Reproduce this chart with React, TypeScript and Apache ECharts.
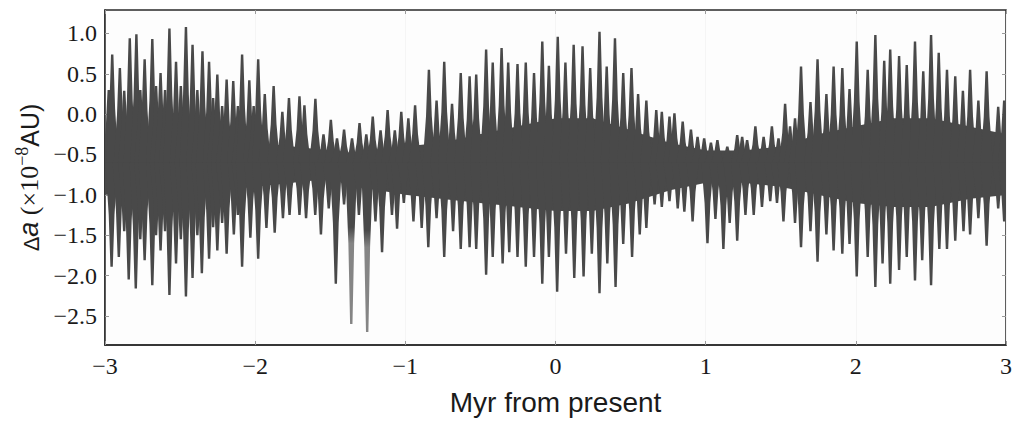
import React, { useEffect, useRef } from "react";
import * as echarts from "echarts";

// x ticks (Myr) and y ticks (1e-8 AU)
const xTicks = [-3, -2, -1, 0, 1, 2, 3];
const yTicks = [-2.5, -2.0, -1.5, -1.0, -0.5, 0.0, 0.5, 1.0];

// dense core of the oscillation: sample positions, upper and lower edge
const coreX = [-3, -2.75, -2.5, -2.25, -2, -1.75, -1.5, -1.25, -1, -0.75, -0.5, -0.25, 0, 0.25, 0.5, 0.75, 1, 1.25, 1.5, 1.75, 2, 2.25, 2.5, 2.75, 3];
const coreTop = [-0.25, -0.3, -0.3, -0.3, -0.35, -0.4, -0.45, -0.5, -0.4, -0.35, -0.25, -0.15, -0.05, -0.05, -0.2, -0.35, -0.45, -0.45, -0.4, -0.25, -0.15, -0.05, -0.05, -0.15, -0.25];
const coreBot = [-1.0, -1.0, -0.98, -0.95, -0.9, -0.85, -0.8, -0.92, -1.0, -1.05, -1.1, -1.15, -1.2, -1.2, -1.1, -0.95, -0.85, -0.85, -0.9, -1.0, -1.1, -1.15, -1.15, -1.05, -1.0];

// upward spike tips [Myr, value]
const upSpikes = [
  [-2.975, 0.30], [-2.952, 0.74], [-2.901, 0.57], [-2.872, 0.29], [-2.835, 0.94], [-2.791, 0.99], [-2.765, 0.30], [-2.736, 0.68],
  [-2.685, 0.93], [-2.660, 0.35], [-2.630, 0.51], [-2.600, 0.30], [-2.571, 1.06], [-2.527, 0.65], [-2.495, 0.35], [-2.461, 1.08],
  [-2.417, 0.86], [-2.385, 0.30], [-2.351, 0.78], [-2.307, 0.65], [-2.280, 0.20], [-2.252, 0.49], [-2.220, 0.10], [-2.190, 0.43],
  [-2.146, 0.41], [-2.115, 0.10], [-2.087, 0.74], [-2.039, 0.42], [-2.010, 0.10],
  [-1.980, 0.68], [-1.936, 0.25], [-1.877, 0.35], [-1.819, 0.03], [-1.775, 0.20], [-1.705, 0.22], [-1.672, 0.11], [-1.599, 0.19],
  [-1.545, -0.25], [-1.496, -0.07], [-1.455, -0.30], [-1.408, -0.19], [-1.355, -0.30], [-1.305, -0.11], [-1.260, -0.25],
  [-1.217, -0.03], [-1.165, -0.20], [-1.118, 0.05], [-1.070, -0.20], [-1.027, 0.03], [-0.980, -0.05],
  [-0.935, 0.11], [-0.843, 0.55], [-0.792, 0.17], [-0.741, 0.65], [-0.689, 0.13], [-0.631, 0.51], [-0.572, 0.47], [-0.528, 0.49],
  [-0.462, 0.80], [-0.418, 0.64], [-0.359, 0.82], [-0.315, 0.64], [-0.253, 0.62], [-0.198, 0.64], [-0.143, 0.51], [-0.088, 0.90],
  [-0.044, 0.60], [0.015, 0.96],
  [0.066, 0.64], [0.121, 0.86], [0.180, 0.84], [0.231, 0.57], [0.293, 1.02], [0.341, 0.59], [0.396, 0.94], [0.451, 0.51],
  [0.506, 0.57], [0.550, 0.25], [0.605, 0.17], [0.671, 0.05], [0.708, 0.03], [0.759, -0.03], [0.792, 0.01], [0.847, -0.09],
  [0.902, -0.19], [0.946, -0.28], [0.990, -0.30],
  [1.035, -0.35], [1.078, -0.32], [1.144, -0.40], [1.210, -0.26], [1.243, -0.28], [1.276, -0.32], [1.331, -0.15], [1.386, -0.28],
  [1.441, -0.15], [1.485, -0.30], [1.529, 0.13], [1.562, -0.15], [1.595, -0.05], [1.635, 0.59], [1.698, 0.15], [1.745, 0.68],
  [1.804, 0.25], [1.852, 0.59], [1.910, 0.57], [1.958, 0.31], [2.006, 0.90],
  [2.079, 0.55], [2.130, 0.98], [2.189, 0.66], [2.229, 0.80], [2.288, 0.72], [2.339, 0.61], [2.394, 0.90], [2.449, 0.53],
  [2.501, 0.98], [2.552, 0.76], [2.607, 0.55], [2.662, 0.47], [2.713, 0.29], [2.761, 0.55], [2.816, 0.17], [2.871, 0.53],
  [2.948, 0.09], [2.988, 0.17],
];

// downward spike tips [Myr, value]
const downSpikes = [
  [-2.956, -1.89], [-2.908, -1.77], [-2.872, -1.45], [-2.842, -2.05], [-2.795, -2.16], [-2.765, -1.55], [-2.736, -1.81],
  [-2.685, -2.12], [-2.660, -1.50], [-2.630, -1.69], [-2.600, -1.45], [-2.571, -2.24], [-2.527, -1.85], [-2.495, -1.55],
  [-2.461, -2.26], [-2.417, -2.03], [-2.385, -1.50], [-2.355, -1.97], [-2.307, -1.79], [-2.280, -1.40], [-2.252, -1.69],
  [-2.220, -1.35], [-2.190, -1.73], [-2.142, -1.49], [-2.115, -1.25], [-2.087, -1.89], [-2.032, -1.53],
  [-1.980, -1.79], [-1.925, -1.41], [-1.870, -1.47], [-1.815, -1.29], [-1.771, -1.25], [-1.705, -1.25], [-1.661, -1.29],
  [-1.600, -1.25], [-1.562, -1.49], [-1.510, -1.17], [-1.463, -2.10], [-1.408, -1.12], [-1.360, -2.60], [-1.309, -1.25],
  [-1.254, -2.70], [-1.199, -1.33], [-1.155, -1.71], [-1.089, -1.25], [-1.055, -1.42], [-1.010, -1.10],
  [-0.946, -1.33], [-0.891, -1.41], [-0.847, -1.65], [-0.792, -1.29], [-0.741, -1.77], [-0.682, -1.45], [-0.631, -1.67],
  [-0.572, -1.65], [-0.528, -1.67], [-0.462, -1.99], [-0.418, -1.77], [-0.352, -1.85], [-0.308, -1.71], [-0.253, -1.77],
  [-0.198, -1.89], [-0.143, -1.77], [-0.088, -2.10], [-0.044, -1.77], [0.011, -2.20],
  [0.070, -1.73], [0.125, -2.03], [0.187, -2.01], [0.242, -1.73], [0.293, -2.22], [0.345, -1.85], [0.400, -2.14], [0.451, -1.61],
  [0.510, -1.77], [0.561, -1.49], [0.605, -1.41], [0.660, -1.12], [0.708, -1.15], [0.759, -1.08], [0.814, -1.17], [0.858, -1.21],
  [0.913, -1.33], [1.012, -1.60],
  [1.065, -1.30], [1.118, -1.67], [1.160, -1.35], [1.210, -1.57], [1.265, -1.25], [1.320, -1.25], [1.375, -1.15], [1.430, -1.08],
  [1.475, -1.10], [1.518, -1.33], [1.595, -1.35], [1.635, -1.65], [1.698, -1.45], [1.745, -1.83], [1.804, -1.49], [1.852, -1.69],
  [1.910, -1.73], [1.958, -1.61], [2.006, -2.01],
  [2.079, -1.77], [2.130, -2.14], [2.178, -1.85], [2.229, -2.10], [2.288, -1.93], [2.339, -1.77], [2.394, -2.06], [2.442, -1.81],
  [2.501, -2.12], [2.556, -1.67], [2.607, -1.67], [2.662, -1.57], [2.717, -1.45], [2.761, -1.49], [2.816, -1.29], [2.871, -1.63],
  [2.948, -1.17], [2.988, -1.33],
];

const INK = "#494949";
const PALE = "#858585";
const CENTER = -0.6;
const SERIF = "'Liberation Serif', 'DejaVu Serif', 'Times New Roman', serif";
const SANS = "'Liberation Sans', Arial, Helvetica, sans-serif";

const fmt = (v: number) => {
  const s = Math.abs(v) < 1e-9 ? "0" : String(Math.abs(v));
  return v < -1e-9 ? "\u2212" + s : s;
};
const fmtY = (v: number) => {
  const s = Math.abs(v).toFixed(1);
  return v < -1e-9 ? "\u2212" + s : s;
};

export default function App() {
  const ref = useRef<HTMLDivElement>(null);
  useEffect(() => {
    if (!ref.current) return;
    const chart = echarts.init(ref.current, null, { renderer: "svg" });

    const paleFill = new echarts.graphic.LinearGradient(0, 0, 0, 1, [
      { offset: 0, color: INK },
      { offset: 0.4, color: INK },
      { offset: 0.5, color: PALE },
      { offset: 1, color: PALE },
    ]);

    const spikeRender = (params: any, api: any) => {
      const x = api.value(0);
      const v = api.value(1);
      const tip = api.coord([x, v]);
      const base = api.coord([x, CENTER]);
      const mid = [tip[0], tip[1] + (base[1] - tip[1]) * 0.5];
      const th = 1.2;
      const mh = 2.9;
      const bh = 6.2;
      return {
        type: "polygon",
        shape: {
          points: [
            [tip[0] - th, tip[1]],
            [tip[0] + th, tip[1]],
            [mid[0] + mh, mid[1]],
            [base[0] + bh, base[1]],
            [base[0] - bh, base[1]],
            [mid[0] - mh, mid[1]],
          ],
        },
        style: { fill: v < -2.3 ? paleFill : INK },
      };
    };

    const coreData = coreX.map((x, i) => [x, coreTop[i], coreBot[i]]);
    const coreRender = (params: any, api: any) => {
      const i = params.dataIndex;
      if (i >= coreData.length - 1) return null;
      const a = coreData[i];
      const b = coreData[i + 1];
      const p1 = api.coord([a[0], a[1]]);
      const p2 = api.coord([b[0], b[1]]);
      const p3 = api.coord([b[0], b[2]]);
      const p4 = api.coord([a[0], a[2]]);
      return {
        type: "polygon",
        shape: { points: [[p1[0] - 0.5, p1[1]], [p2[0] + 0.5, p2[1]], [p3[0] + 0.5, p3[1]], [p4[0] - 0.5, p4[1]]] },
        style: { fill: INK },
      };
    };

    const labelFont = { fontFamily: SERIF, fontSize: 24, color: "#1a1a1a" };
    const tickStyle = { show: true, inside: true, length: 4, lineStyle: { color: "#9a9a9a", width: 1 } };

    chart.setOption({
      animation: false,
      backgroundColor: "#ffffff",
      grid: {
        left: 105,
        right: 1,
        top: 10,
        bottom: 69,
        show: true,
        borderColor: "#2a2a2a",
        borderWidth: 1.5,
        backgroundColor: "#fdfdfd",
      },
      xAxis: [
        {
          type: "value",
          min: -3,
          max: 3,
          interval: 1,
          axisLine: { show: true, onZero: false, lineStyle: { color: "#2a2a2a", width: 1.5 } },
          axisTick: tickStyle,
          axisLabel: { ...labelFont, margin: 9, formatter: (v: number) => fmt(v), customValues: xTicks },
          splitLine: { show: true, lineStyle: { color: "#f5f5f5", width: 1 } },
          name: "Myr from present",
          nameLocation: "middle",
          nameGap: 43,
          nameTextStyle: { fontFamily: SANS, fontSize: 28, color: "#1a1a1a" },
        },
        {
          type: "value",
          position: "top",
          min: -3,
          max: 3,
          interval: 1,
          axisLine: { show: false, onZero: false },
          axisTick: tickStyle,
          axisLabel: { show: false },
          splitLine: { show: false },
        },
      ],
      yAxis: [
        {
          type: "value",
          min: -2.86,
          max: 1.29,
          axisLine: { show: true, onZero: false, lineStyle: { color: "#2a2a2a", width: 1.5 } },
          axisTick: { ...tickStyle, customValues: yTicks },
          axisLabel: { ...labelFont, margin: 8, formatter: (v: number) => fmtY(v), customValues: yTicks },
          splitLine: { show: false },
          name: "{d|\u0394}{i|a}{s| (\u00d710}{sup|\u22128}{u|AU)}",
          nameLocation: "middle",
          nameRotate: 90,
          nameGap: 54,
          nameTextStyle: {
            rich: {
              d: { fontFamily: SANS, fontSize: 22, color: "#1a1a1a", lineHeight: 30, verticalAlign: "bottom" },
              i: { fontFamily: SANS, fontStyle: "italic", fontSize: 27, color: "#1a1a1a", lineHeight: 30, verticalAlign: "bottom" },
              s: { fontFamily: SERIF, fontSize: 26, color: "#1a1a1a", lineHeight: 30, verticalAlign: "bottom" },
              sup: { fontFamily: SERIF, fontSize: 18, color: "#1a1a1a", lineHeight: 30, verticalAlign: "top" },
              u: { fontFamily: SANS, fontSize: 25, color: "#1a1a1a", lineHeight: 30, verticalAlign: "bottom" },
            },
          },
        },
        {
          type: "value",
          position: "right",
          min: -2.86,
          max: 1.29,
          axisLine: { show: false, onZero: false },
          axisTick: { ...tickStyle, customValues: yTicks },
          axisLabel: { show: false },
          splitLine: { show: false },
        },
      ],
      series: [
        {
          type: "custom",
          coordinateSystem: "cartesian2d",
          clip: true,
          renderItem: coreRender,
          data: coreData,
          encode: { x: 0, y: [1, 2] },
          silent: true,
        },
        {
          type: "custom",
          coordinateSystem: "cartesian2d",
          clip: true,
          renderItem: spikeRender,
          data: upSpikes,
          encode: { x: 0, y: 1 },
          silent: true,
        },
        {
          type: "custom",
          coordinateSystem: "cartesian2d",
          clip: true,
          renderItem: spikeRender,
          data: downSpikes,
          encode: { x: 0, y: 1 },
          silent: true,
        },
      ],
    });
    return () => chart.dispose();
  }, []);
  return (
    <div
      ref={ref}
      style={{ position: "fixed", left: 0, top: 0, width: 1015, height: 421 }}
    />
  );
}
